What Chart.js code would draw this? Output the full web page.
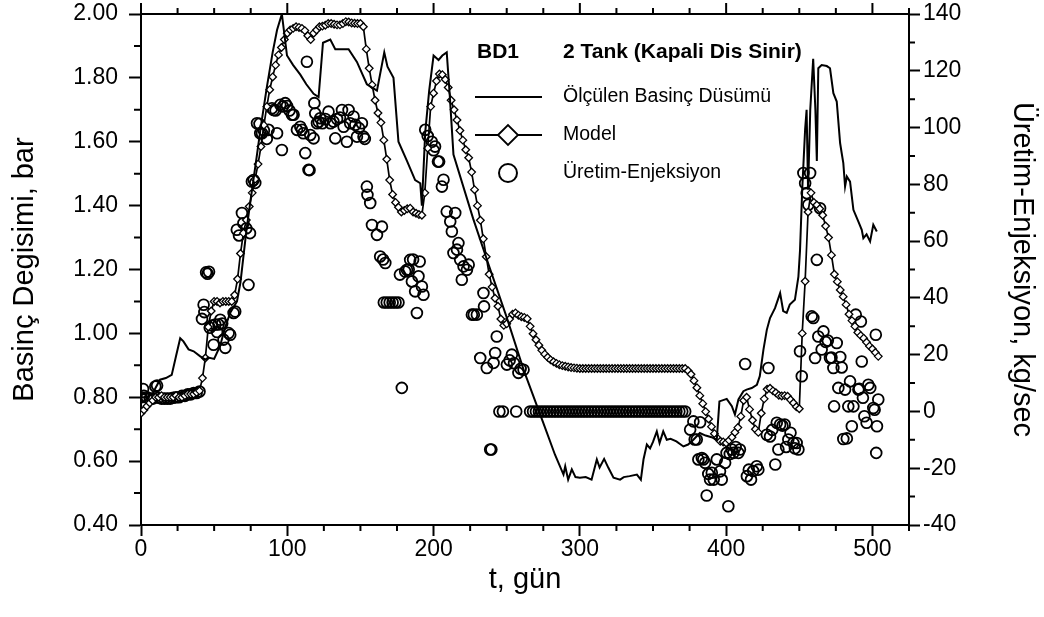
<!DOCTYPE html>
<html>
<head>
<meta charset="utf-8">
<script src="https://cdn.jsdelivr.net/npm/chart.js@4.4.1/dist/chart.umd.min.js"></script>
<style>
  html, body { margin: 0; padding: 0; background: #fff; }
</style>
</head>
<body>
<canvas id="grafik" width="1044" height="617"></canvas>
<script>
// Ölçülen basınç düşümü [gün, bar]
var measData = [
  [0,0.80],[4,0.80],[8,0.81],[10,0.83],[13,0.855],[17,0.86],[21,0.87],[24,0.93],[26.8,0.985],[29,0.975],
  [32.5,0.95],[36,0.944],[40.5,0.928],[44,0.918],[46,0.924],[50,0.92],[54,0.96],[57.6,1.02],[61,1.065],[65.6,1.10],
  [68,1.16],[72,1.32],[75,1.42],[79,1.55],[82,1.65],[86,1.77],[90,1.88],[93,1.95],[96.3,2.00],[99.8,1.87],
  [104,1.84],[108.9,1.81],[113,1.78],[118,1.75],[121.4,1.74],[124.4,1.91],[129.4,1.92],[132.8,1.89],[141.9,1.89],[147.6,1.85],
  [154.4,1.78],[161.3,1.76],[166.3,1.88],[168.5,1.835],[172.6,1.80],[176,1.60],[181.8,1.54],[187.4,1.48],[190.9,1.47],[192,1.40],
  [194.3,1.63],[197,1.76],[200,1.87],[203.4,1.856],[206,1.87],[209,1.88],[211,1.75],[213.6,1.56],[227,1.36],[238,1.21],
  [250,1.05],[262,0.88],[275,0.72],[283,0.62],[288.8,0.558],[290,0.584],[292,0.542],[294.5,0.574],[297,0.55],[300,0.548],
  [304,0.55],[308,0.542],[311.6,0.605],[313.5,0.58],[316.6,0.607],[319.5,0.579],[323,0.548],[327.5,0.542],[330,0.55],[334,0.553],
  [339,0.558],[341.7,0.542],[343.5,0.605],[345.8,0.652],[348,0.64],[350,0.66],[352.6,0.693],[354.5,0.657],[357,0.693],[359.4,0.667],
  [362,0.67],[366,0.662],[370.8,0.646],[374,0.652],[377.6,0.667],[382,0.688],[386,0.68],[390,0.675],[393.6,0.667],[395.4,0.787],
  [400.4,0.795],[403.9,0.772],[406,0.746],[408.4,0.793],[411.8,0.819],[414,0.824],[417.5,0.829],[421,0.839],[423,0.866],[425.5,0.949],
  [427.8,1.011],[430,1.048],[433.4,1.079],[436.9,1.126],[439,1.07],[441.4,1.064],[443.5,1.09],[447,1.105],[449.4,1.178],[450.5,1.26],
  [452,1.45],[454,1.64],[455,1.70],[456,1.45],[457.5,1.70],[459.5,1.86],[461,1.70],[462,1.54],[463,1.83],[465.3,1.84],
  [468.8,1.837],[471,1.83],[473.3,1.752],[475.6,1.726],[477.9,1.596],[479,1.564],[480.1,1.533],[481.3,1.46],[482.5,1.491],[484.7,1.475],
  [487,1.387],[490.4,1.35],[492.7,1.324],[493.8,1.298],[496,1.31],[498.4,1.288],[500.6,1.34],[503,1.319]
];

// Model, her 2 günde bir [bar]
var modelStep = 2;
var modelVals = [
  0.75,0.76,0.772,0.782,0.79,0.80,0.80,0.805,0.80,0.80,
  0.80,0.80,0.805,0.80,0.80,0.805,0.81,0.81,0.81,0.815,
  0.82,0.86,0.923,1.02,1.07,1.10,1.10,1.095,1.10,1.10,
  1.10,1.10,1.12,1.17,1.25,1.314,1.355,1.397,1.44,1.483,
  1.53,1.585,1.652,1.71,1.763,1.803,1.84,1.872,1.895,1.92,
  1.94,1.95,1.955,1.96,1.958,1.955,1.948,1.932,1.92,1.94,
  1.95,1.96,1.962,1.965,1.97,1.97,1.968,1.966,1.966,1.97,
  1.976,1.975,1.972,1.971,1.97,1.97,1.96,1.89,1.83,1.778,
  1.73,1.69,1.66,1.605,1.545,1.48,1.435,1.41,1.395,1.38,
  1.385,1.39,1.392,1.38,1.376,1.372,1.37,1.44,1.58,1.71,
  1.752,1.79,1.812,1.81,1.795,1.77,1.73,1.70,1.668,1.635,
  1.605,1.575,1.55,1.505,1.45,1.40,1.354,1.296,1.24,1.185,
  1.145,1.11,1.085,1.045,1.025,1.03,1.045,1.06,1.064,1.057,
  1.052,1.05,1.046,1.022,0.999,0.98,0.963,0.947,0.935,0.925,
  0.917,0.911,0.906,0.902,0.899,0.897,0.895,0.893,0.892,0.891,
  0.89,0.89,0.89,0.89,0.89,0.89,0.89,0.89,0.89,0.89,
  0.89,0.89,0.89,0.89,0.89,0.89,0.89,0.89,0.89,0.89,
  0.89,0.89,0.89,0.89,0.89,0.89,0.89,0.89,0.89,0.89,
  0.89,0.89,0.89,0.89,0.89,0.89,0.89,
  0.883,0.872,0.852,0.83,0.805,0.78,0.755,0.732,0.708,0.686,
  0.672,0.662,0.66,0.657,0.665,0.675,0.69,0.705,0.74,0.79,
  0.80,0.762,0.728,0.70,0.69,0.75,0.795,0.825,0.828,0.82,
  0.814,0.806,0.804,0.805,0.803,0.792,0.782,0.77,0.764,1.00,
  1.163,1.38,1.44,1.41,1.402,1.39,1.37,1.336,1.30,1.245,
  1.185,1.162,1.136,1.115,1.09,1.06,1.04,1.022,1.003,0.993,
  0.985,0.972,0.96,0.951,0.94,0.928
];

// Üretim-Enjeksiyon [gün, kg/sec]
var prodData = [
  [0,5],[1.4,7.9],[2,5.5],[4,5],[6,4.5],[8,4.5],[9.8,8.8],[11,9.1],[12,4.8],[14,4.5],[16,4.5],[18,4.5],[20,4.5],
  [22,4.8],[24,5],[26,5],[28,5.5],[30,5.5],[32,6],[34,6],[36,6.5],[38,6.5],[40,7],
  [41.7,32.6],[42.8,37.6],[43.3,35],[44.5,49],[45.5,48.5],[46.5,49.2],[47,29.5],[48.5,30.3],[49.6,23.5],[50.8,30.6],
  [52,28],[53,30.6],[54.2,32.3],[55.5,31],[56.4,25.3],[57.6,22.4],[59.9,27.6],[61,27],[63.3,34.7],[64.4,35.2],
  [65.5,64],[67,62],[69,69.9],[70,66.3],[72,64.5],[73.5,44.6],[74.5,62.8],[75.8,81],[77,81.5],[78.1,80.5],
  [79.3,101.5],[81,101.3],[81.5,98],[82.7,98],[84,99],[86,96],[87.2,99.2],[89.5,106.8],[90.7,106.2],[92,106],
  [93,98],[95.2,108],[96.3,92.1],[97,107.4],[98.6,108.6],[99.8,107.6],[101.5,106],[103.2,104.5],[104.3,104.5],[106.6,99.2],
  [108.9,100.3],[110,99.2],[111,98],[112.3,91],[113.4,123.2],[114.5,85.1],[115.2,85],[115.7,97.4],[118,96.2],[118.5,108.6],
  [119.1,105],[120.3,101.5],[121.5,102],[122.5,103.3],[124,101.5],[126,103],[128.2,105.6],[129.5,101.5],[131.6,102.1],[132.8,96.2],
  [134,103],[136,103.5],[137.4,106.2],[138.5,100.3],[140.7,95],[141.9,106.2],[143,101.5],[145.3,103.9],[146.5,101],[147.6,96.8],
  [149,99.8],[151,101.5],[152.1,96.8],[153,96],
  [154.4,79.2],[154.8,76.3],[156.7,73.4],[157.9,65.7],[161.3,62.2],[163.5,54.6],[164.7,65.1],[165.5,53.5],[167,52.3],
  [166,38.4],[168,38.4],[170,38.4],[172,38.4],[174,38.4],[176,38.4],
  [177,48.2],[178.3,8.3],[180.6,49.3],[181.8,49.9],[183,50],[184,53.4],[185.2,45.8],[186,53.5],[187.4,42.3],[188.6,34.7],
  [189.7,47.6],[190.5,52.8],[192,44],[193.1,41.1],
  [194.3,99.2],[196,97],[198.8,95],[200,92],[201,93.3],[203,88],[203.8,88],[205.7,79.2],[206.8,81.6],[209,70.4],
  [211.4,66.9],[212.5,63.4],[213.6,55.8],[214.8,69.9],[216,57],[217,59.3],[218.2,53.4],[219.3,46.4],[220.5,51.1],[222.8,49.9],
  [224,51.7],[226.2,34.1],[227.5,34.1],[229.6,34.1],[231.9,18.8],[234.1,41.7],[234.5,37],[236.4,15.3],[238.7,-13.4],[239.5,-13.4],
  [241,17.1],[242.1,20.6],[243.2,26.4],[245,0],[247.4,0],[250.1,16.5],[252,18],[253.5,20],[255,17],[256.5,0],
  [258,13.6],[259.5,15],[261.5,14.7],
  [266,0],[268,0],[270,0],[272,0],[274,0],[276,0],[278,0],[280,0],[282,0],[284,0],[286,0],[288,0],[290,0],[292,0],
  [294,0],[296,0],[298,0],[300,0],[302,0],[304,0],[306,0],[308,0],[310,0],[312,0],[314,0],[316,0],[318,0],[320,0],
  [322,0],[324,0],[326,0],[328,0],[330,0],[332,0],[334,0],[336,0],[338,0],[340,0],[342,0],[344,0],[346,0],[348,0],
  [350,0],[352,0],[354,0],[356,0],[358,0],[360,0],[362,0],[364,0],[366,0],[368,0],[370,0],[372,0],
  [375.4,-6.4],[377.6,-3.5],[378.5,-9.9],[379.9,-9.9],[381,-16.9],[382.2,-3.8],[383.4,-16.4],[384.4,-16.9],[385.6,-18.1],[386.7,-29.6],
  [387.8,-22],[389,-24],[390.2,-21.6],[391.5,-24],[393.6,-16.9],[395.8,-21.1],[397,-24],[399.3,-18.1],[400.3,-14.6],[401.5,-33.4],
  [402.5,-15],[403.9,-13.4],[405,-14.6],[406.5,-12.5],[408.4,-14.6],[409.4,-13.4],[413,16.7],[414.2,-22.8],[415.5,-20.5],[417,-24],
  [418.5,-21],[420.9,-19.3],[422,-20.5],[427.8,-8.2],[428.9,15.3],[430,-8.8],[431.5,-6.5],[433.6,-18.7],[434.6,-4],[435.7,-13.4],
  [436.9,-4.6],[438.5,-5],[440,-4.6],[441,-12.5],[442.5,-9.9],[444,-7.5],[446,-11.1],[447,-13],[448.2,-11.1],[449.4,-13.4],
  [450.5,21.2],[451.7,12.4],[452.8,84],[454,80.4],[455.1,76.9],[456.2,72.8],[457.4,84],[458.5,33.5],[459.6,32.9],[460.8,18.8],
  [462,53.4],[463,26.4],[464.2,71.6],[465.3,21.8],[466.5,28.2],[468,24.5],[469.5,25],[471,18.8],[472,19],[473.3,15.3],
  [473.8,1.8],[475.6,24.1],[476.7,8.3],[478,19.2],[479,15.5],[480.1,-9.7],[481.3,7.7],[482.5,-9.5],[483.5,1.8],[484.7,10.6],
  [485.9,-5.2],[487,1.8],[488.6,34.1],[490.4,7.7],[491,8],[492.1,31.7],[492.7,17.6],[493.5,4.8],[494.5,-1.7],[496,-4],
  [497.2,9.4],[498.5,8.3],[500.6,1.2],[501.5,0.6],[502.3,27],[502.6,-14.6],[503.1,-5.2],[504,4.2]
];

var xTicks = { min: 0, max: 525, major: 100, minor: 25 };
var yTicks = { min: 0.4, max: 2.0, major: 0.2, minor: 0.1 };
var y2Ticks = { min: -40, max: 140, major: 20, minor: 10 };

var FONT = "'Liberation Sans', Arial, Helvetica, sans-serif";

function toXY(list) {
  return list.map(function (p) { return { x: p[0], y: p[1] }; });
}

// eksen genişliğini sabitle, etiket taşma payını sıfırla
function fixWidth(w) {
  return function (s) {
    s.width = w;
    s.paddingTop = 0;
    s.paddingBottom = 0;
  };
}

// ara çentikler + üst kenar
var minorTicks = {
  id: 'minorTicks',
  afterDraw: function (chart) {
    var ctx = chart.ctx, a = chart.chartArea;
    var sx = chart.scales.x, sy = chart.scales.y, sy2 = chart.scales.y2;
    var i, n, p, major;
    ctx.save();
    ctx.strokeStyle = '#000';
    ctx.lineWidth = 2;
    ctx.beginPath();
    ctx.moveTo(a.left - 1, a.top);
    ctx.lineTo(a.right + 1, a.top);

    n = Math.round((xTicks.max - xTicks.min) / xTicks.minor);
    for (i = 0; i <= n; i++) {
      p = sx.getPixelForValue(xTicks.min + i * xTicks.minor);
      major = (i * xTicks.minor) % xTicks.major === 0;
      if (!major) { ctx.moveTo(p, a.bottom); ctx.lineTo(p, a.bottom + 6); }
      ctx.moveTo(p, a.top); ctx.lineTo(p, a.top - (major ? 11 : 6));
    }
    n = Math.round((yTicks.max - yTicks.min) / yTicks.minor);
    for (i = 1; i < n; i += 2) {
      p = sy.getPixelForValue(yTicks.min + i * yTicks.minor);
      ctx.moveTo(a.left, p); ctx.lineTo(a.left - 7, p);
    }
    n = Math.round((y2Ticks.max - y2Ticks.min) / y2Ticks.minor);
    for (i = 1; i < n; i += 2) {
      p = sy2.getPixelForValue(y2Ticks.min + i * y2Ticks.minor);
      ctx.moveTo(a.right, p); ctx.lineTo(a.right + 6, p);
    }
    ctx.stroke();
    ctx.restore();
  }
};

// grafik içi açıklama kutusu
var legendBox = {
  id: 'legendBox',
  afterDraw: function (chart) {
    var ctx = chart.ctx, a = chart.chartArea;
    var lx = a.left + 334, tx = a.left + 422, mx = a.left + 367;
    var rows = [a.top + 83, a.top + 121, a.top + 159];
    ctx.save();
    ctx.fillStyle = '#000';
    ctx.strokeStyle = '#000';
    ctx.textBaseline = 'middle';
    ctx.textAlign = 'left';
    ctx.font = 'bold 21px ' + FONT;
    ctx.fillText('BD1', a.left + 336, a.top + 38);
    ctx.fillText('2 Tank (Kapali Dis Sinir)', tx, a.top + 38);

    ctx.font = '19.5px ' + FONT;
    ctx.lineWidth = 2;
    ctx.beginPath();
    ctx.moveTo(lx, rows[0]); ctx.lineTo(lx + 67, rows[0]);
    ctx.moveTo(lx, rows[1]); ctx.lineTo(lx + 67, rows[1]);
    ctx.stroke();
    ctx.fillText('Ölçülen Basinç Düsümü', tx, rows[0]);

    ctx.beginPath();
    ctx.moveTo(mx - 10, rows[1]); ctx.lineTo(mx, rows[1] - 10);
    ctx.lineTo(mx + 10, rows[1]); ctx.lineTo(mx, rows[1] + 10);
    ctx.closePath();
    ctx.fillStyle = '#fff';
    ctx.fill();
    ctx.lineWidth = 1.8;
    ctx.stroke();
    ctx.fillStyle = '#000';
    ctx.fillText('Model', tx, rows[1]);

    ctx.beginPath();
    ctx.arc(mx, rows[2], 9, 0, Math.PI * 2);
    ctx.lineWidth = 2;
    ctx.stroke();
    ctx.fillText('Üretim-Enjeksiyon', tx, rows[2]);
    ctx.restore();
  }
};

var tickFont = { family: FONT, size: 23 };
var titleFont = { family: FONT, size: 29 };

var contexto = document.getElementById('grafik').getContext('2d');
var grafik = new Chart(contexto, {
  type: 'scatter',
  data: {
    datasets: [{
      label: 'Ölçülen Basinç Düsümü',
      data: toXY(measData),
      yAxisID: 'y',
      showLine: true,
      borderColor: '#000',
      borderWidth: 2,
      pointRadius: 0,
      tension: 0
    }, {
      label: 'Model',
      data: modelVals.map(function (v, i) { return { x: i * modelStep, y: v }; }),
      yAxisID: 'y',
      showLine: true,
      borderColor: '#000',
      borderWidth: 1.7,
      pointStyle: 'rectRot',
      pointRadius: 3.8,
      pointBorderWidth: 1.3,
      pointBackgroundColor: '#fff',
      pointBorderColor: '#000',
      tension: 0
    }, {
      label: 'Üretim-Enjeksiyon',
      data: toXY(prodData),
      yAxisID: 'y2',
      showLine: false,
      pointStyle: 'circle',
      pointRadius: 5.4,
      pointBorderWidth: 1.8,
      pointBackgroundColor: 'rgba(0,0,0,0)',
      pointBorderColor: '#000'
    }]
  },
  options: {
    responsive: false,
    animation: false,
    devicePixelRatio: 1,
    events: [],
    layout: { padding: { top: 14, left: 0, right: 0, bottom: 0 } },
    plugins: { legend: { display: false }, tooltip: { enabled: false } },
    scales: {
      x: {
        type: 'linear',
        position: 'bottom',
        min: xTicks.min,
        max: xTicks.max,
        afterFit: function (s) { s.height = 92; s.paddingLeft = 0; s.paddingRight = 0; },
        ticks: { stepSize: xTicks.major, includeBounds: false, color: '#000', font: tickFont, padding: 0, maxRotation: 0, autoSkip: false },
        grid: { drawOnChartArea: false, drawTicks: true, tickLength: 11, tickWidth: 2, tickColor: '#000' },
        border: { display: true, color: '#000', width: 2 },
        title: { display: true, text: 't, gün', color: '#000', font: titleFont, padding: { top: 0, bottom: 20 } }
      },
      y: {
        type: 'linear',
        position: 'left',
        min: yTicks.min,
        max: yTicks.max,
        afterFit: fixWidth(141),
        ticks: {
          stepSize: yTicks.major, color: '#000', font: tickFont, padding: 11,
          callback: function (v) { return v.toFixed(2); }
        },
        grid: { drawOnChartArea: false, drawTicks: true, tickLength: 12, tickWidth: 2, tickColor: '#000' },
        border: { display: true, color: '#000', width: 2 },
        title: { display: true, text: 'Basinç Degisimi, bar', color: '#000', font: titleFont, padding: { top: 8, bottom: 0 } }
      },
      y2: {
        type: 'linear',
        position: 'right',
        min: y2Ticks.min,
        max: y2Ticks.max,
        afterFit: fixWidth(135),
        ticks: { stepSize: y2Ticks.major, color: '#000', font: tickFont, padding: 3 },
        grid: { drawOnChartArea: false, drawTicks: true, tickLength: 11, tickWidth: 2, tickColor: '#000' },
        border: { display: true, color: '#000', width: 2 },
        title: { display: true, text: 'Üretim-Enjeksiyon, kg/sec', color: '#000', font: titleFont, padding: { top: 5, bottom: 0 } }
      }
    }
  },
  plugins: [minorTicks, legendBox]
});
</script>
</body>
</html>
